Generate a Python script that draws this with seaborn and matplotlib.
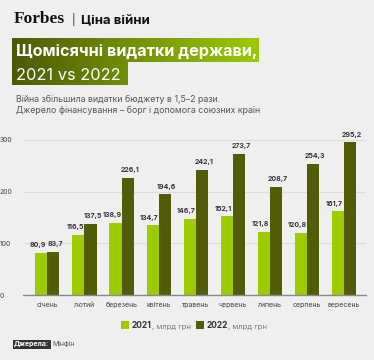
import numpy as np
import pandas as pd
import matplotlib
matplotlib.use("Agg")
import matplotlib.pyplot as plt
import seaborn as sns
from matplotlib.colors import LinearSegmentedColormap

months = ["січень", "лютий", "березень", "квітень", "травень", "червень", "липень", "серпень", "вересень"]
v2021 = [80.9, 116.5, 138.9, 134.7, 146.7, 152.1, 121.8, 120.8, 161.7]
v2022 = [83.7, 137.5, 226.1, 194.6, 242.1, 273.7, 208.7, 254.3, 295.2]
years = ["2021", "2022"]
yticks = [0, 100, 200, 300]

sns.set_theme(style="white")
plt.rcParams['font.family'] = ['Inter', 'DejaVu Sans']

BG = "#efefef"
LIGHT = "#9ccb00"
DARK = "#515b08"

W, H = 374, 360
fig = plt.figure(figsize=(W / 100, H / 100), dpi=100, facecolor=BG)

# overlay in pixel coordinates
ov = fig.add_axes([0, 0, 1, 1], facecolor="none")
ov.set_xlim(0, W)
ov.set_ylim(H, 0)
ov.axis("off")

# header
t1 = ov.text(14, 23, "Forbes", family=["Liberation Serif"], fontweight="bold", fontsize=12.5,
             color="#111111", va="baseline", ha="left")
t2 = ov.annotate("|", xy=(1, 0), xycoords=t1, xytext=(5, 0.5), textcoords="offset points",
                 fontsize=8, color="#333333", va="bottom", ha="left")
ov.annotate("Ціна війни", xy=(1, 0), xycoords=t2, xytext=(4, -0.5), textcoords="offset points",
            fontsize=9.5, fontweight="bold", color="#111111", va="bottom", ha="left")

# title gradient boxes
cmap = LinearSegmentedColormap.from_list("g", ["#4b5a08", "#9ccb04"])
grad = np.linspace(0, 1, 256).reshape(1, -1)
x0, x1 = 12, 259
ov.imshow(grad, cmap=cmap, extent=[x0, x1, 62, 38], aspect="auto", zorder=1)
f2 = (128 - x0) / (x1 - x0)
grad2 = np.linspace(0, f2, 256).reshape(1, -1)
ov.imshow(grad2, cmap=cmap, vmin=0, vmax=1, extent=[x0, 128, 85.5, 62], aspect="auto", zorder=1)
ov.set_xlim(0, W)
ov.set_ylim(H, 0)
ov.text(16, 56, "Щомісячні видатки держави,", fontsize=11.7, fontweight="bold", color="white",
        va="baseline", ha="left", zorder=2)
ov.text(16, 80, "2021 vs 2022", fontsize=11.8, color="white", va="baseline", ha="left", zorder=2)

# subtitle
ov.text(16, 102, "Війна збільшила видатки бюджету в 1,5–2 рази.", fontsize=6.35, color="#555555",
        va="baseline", ha="left")
ov.text(16, 113, "Джерело фінансування – борг і допомога союзних країн", fontsize=6.35, color="#555555",
        va="baseline", ha="left")

# legend
for xs, yr, col in [(121, "2021", LIGHT), (196, "2022", DARK)]:
    ov.add_patch(plt.Rectangle((xs, 321), 8, 8, facecolor=col, edgecolor="none"))
    ta = ov.text(xs + 11, 328.5, yr, fontsize=6, fontweight="bold", color="#333333",
                 va="baseline", ha="left")
    ov.annotate(", млрд грн", xy=(1, 0), xycoords=ta, xytext=(0, 0), textcoords="offset points",
                fontsize=5.5, color="#777777", va="bottom", ha="left")

# source
ov.text(14, 346, "Джерела:", fontsize=5, fontweight="bold", color="white", va="baseline",
        ha="left", bbox=dict(boxstyle="square,pad=0.2", facecolor="#333333", edgecolor="none"))
ov.text(52, 346, "Мінфін", fontsize=5, color="#555555", va="baseline", ha="left")

# chart
df = pd.DataFrame({
    "month": months * 2,
    "value": v2021 + v2022,
    "year": [years[0]] * len(months) + [years[1]] * len(months),
})
ax = fig.add_axes([23 / W, 65 / H, (366 - 23) / W, (295 - 140) / H], facecolor="none")
sns.barplot(data=df, x="month", y="value", hue="year", palette=[LIGHT, DARK], width=0.65,
            gap=0, ax=ax, legend=False, saturation=1, linewidth=0)
ax.set_ylim(0, 300)
ax.set_xlim(-0.66, 8.6)
ax.set_yticks(yticks)
ax.yaxis.grid(True, color="#dcdcdc", linewidth=0.8)
ax.set_axisbelow(True)
for s in ["top", "right", "left"]:
    ax.spines[s].set_visible(False)
ax.spines["bottom"].set_color("#8a8a8a")
ax.spines["bottom"].set_linewidth(1)
ax.set_xlabel("")
ax.set_ylabel("")
ax.tick_params(axis="y", length=0, labelsize=5, labelcolor="#444444", pad=4)
ax.tick_params(axis="x", length=0, labelsize=5, labelcolor="#444444", pad=5)
for lab in ax.get_yticklabels():
    lab.set_horizontalalignment("left")
    lab.set_x(-18 / (366 - 23))
shifts = [-2.4, 1.6]
for c, dx in zip(ax.containers, shifts):
    texts = ax.bar_label(c, labels=[f"{v:.1f}".replace(".", ",") for v in c.datavalues], padding=3.5,
                         fontsize=5.0, fontweight="bold", color="#333333", clip_on=False)
    for t in texts:
        t.xyann = (dx, 3.5)

fig.savefig("out.png", dpi=100, facecolor=BG)
